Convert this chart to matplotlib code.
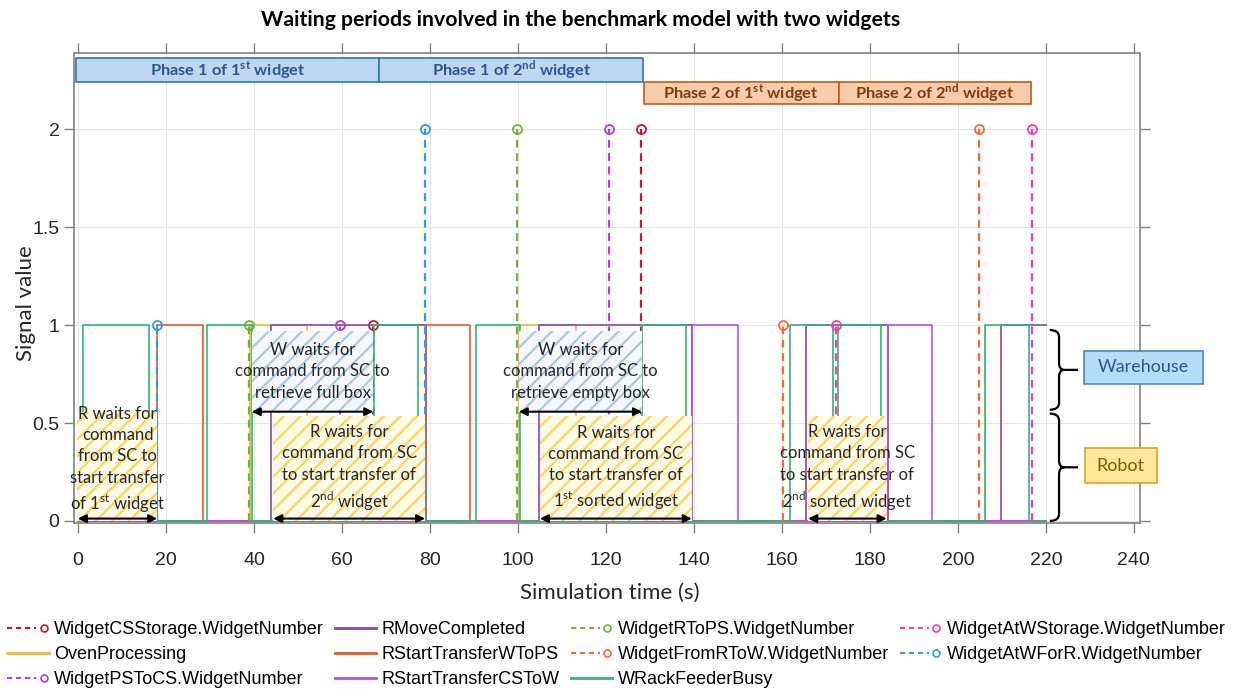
import numpy as np
import matplotlib.pyplot as plt
from matplotlib.lines import Line2D
from matplotlib.patches import Rectangle, PathPatch
from matplotlib.path import Path
from matplotlib.legend_handler import HandlerLine2D

plt.rcParams['font.family'] = ['Liberation Sans', 'DejaVu Sans']
plt.rcParams['mathtext.fontset'] = 'custom'
plt.rcParams['mathtext.rm'] = 'Lato'
plt.rcParams['mathtext.bf'] = 'Lato:bold'
plt.rcParams['hatch.linewidth'] = 1.6

# --- data (times in s) ---
t_end = 220

# step signals: times where the value changes, and the value held after it
oven_t = [0, 39.1, 52.0, 100.2, 113.2]
oven_v = [0, 1, 0, 1, 0]
rmove_t = [0, 43.8, 79.1, 104.8, 139.6, 165.5, 184.2, 209.9]
rmove_v = [0, 1, 0, 1, 0, 1, 0, 1]
wtops_t = [0, 18.0, 28.5, 79.1, 89.2]
wtops_v = [0, 1, 0, 1, 0]
cstow_t = [0, 139.6, 150.1, 184.2, 194.2]
cstow_v = [0, 1, 0, 1, 0]
rack_t = [0, 1.2, 16.2, 29.4, 39.6, 67.3, 77.3, 90.5, 100.5, 128.3, 138.2,
          161.8, 171.7, 172.8, 182.6, 206.1, 216.2]
rack_v = [0, 1, 0, 1, 0, 1, 0, 1, 0, 1, 0, 1, 0, 1, 0, 1, 0]

# widget number events (stems)
cs_storage_t = [67.1, 128.0]
cs_storage_v = [1, 2]
ps_to_cs_t = [59.6, 120.7]
ps_to_cs_v = [1, 2]
r_to_ps_t = [38.8, 99.8]
r_to_ps_v = [1, 2]
from_r_to_w_t = [160.2, 204.8]
from_r_to_w_v = [1, 2]
at_w_storage_t = [172.3, 216.8]
at_w_storage_v = [1, 2]
at_w_for_r_t = [18.0, 78.9]
at_w_for_r_v = [1, 2]

# phases
phase_start = [-0.5, 68.5, 128.6, 172.9]
phase_end = [68.5, 128.5, 172.9, 216.6]
phase_text = [r'Phase 1 of 1$^{\mathbf{st}}$ widget', r'Phase 1 of 2$^{\mathbf{nd}}$ widget',
              r'Phase 2 of 1$^{\mathbf{st}}$ widget', r'Phase 2 of 2$^{\mathbf{nd}}$ widget']

# waiting periods
wait_start = [0.0, 39.5, 44.4, 100.2, 105.0, 166.0]
wait_end = [18.0, 67.1, 78.9, 128.2, 139.5, 183.8]
wait_who = ['R', 'W', 'R', 'W', 'R', 'R']
wait_text = ['R waits for\ncommand\nfrom SC to\nstart transfer\nof 1$^{\\mathrm{st}}$ widget',
             'W waits for\ncommand from SC to\nretrieve full box',
             'R waits for\ncommand from SC\nto start transfer of\n2$^{\\mathrm{nd}}$ widget',
             'W waits for\ncommand from SC to\nretrieve empty box',
             'R waits for\ncommand from SC\nto start transfer of\n1$^{\\mathrm{st}}$ sorted widget',
             'R waits for\ncommand from SC\nto start transfer of\n2$^{\\mathrm{nd}}$ sorted widget']

step_signals = [
    ('OvenProcessing', oven_t, oven_v, '#F2B531'),
    ('RMoveCompleted', rmove_t, rmove_v, '#8E44AD'),
    ('RStartTransferWToPS', wtops_t, wtops_v, '#E35A24'),
    ('RStartTransferCSToW', cstow_t, cstow_v, '#B84EF0'),
    ('WRackFeederBusy', rack_t, rack_v, '#2EB872'),
]
stem_signals = [
    ('WidgetCSStorage.WidgetNumber', cs_storage_t, cs_storage_v, '#C5162E'),
    ('WidgetPSToCS.WidgetNumber', ps_to_cs_t, ps_to_cs_v, '#B43FD8'),
    ('WidgetRToPS.WidgetNumber', r_to_ps_t, r_to_ps_v, '#76B134'),
    ('WidgetFromRToW.WidgetNumber', from_r_to_w_t, from_r_to_w_v, '#FF6633'),
    ('WidgetAtWStorage.WidgetNumber', at_w_storage_t, at_w_storage_v, '#FF36B0'),
    ('WidgetAtWForR.WidgetNumber', at_w_for_r_t, at_w_for_r_v, '#2B9BEF'),
]
legend_order = ['WidgetCSStorage.WidgetNumber', 'OvenProcessing', 'WidgetPSToCS.WidgetNumber',
                'RMoveCompleted', 'RStartTransferWToPS', 'RStartTransferCSToW',
                'WidgetRToPS.WidgetNumber', 'WidgetFromRToW.WidgetNumber', 'WRackFeederBusy',
                'WidgetAtWStorage.WidgetNumber', 'WidgetAtWForR.WidgetNumber']


class StemHandler(HandlerLine2D):
    def create_artists(self, legend, orig_handle, xdescent, ydescent, width, height, fontsize, trans):
        y = height / 2 - ydescent
        x0 = -xdescent
        c = orig_handle.get_color()
        dash = Line2D([x0, x0 + width * 0.7], [y, y], color=c, ls=(0, (2.5, 1.8)), lw=1.5)
        dot = Line2D([x0 + width * 0.88], [y], color=c, marker='o', ms=5, mfc='none', mew=1.2, ls='none')
        dash.set_transform(trans)
        dot.set_transform(trans)
        return [dash, dot]


fig = plt.figure(figsize=(12.37, 6.91), dpi=100)
ax = fig.add_axes([74 / 1237, 1 - 522.5 / 691, 1066 / 1237, 469.5 / 691])

handles = {}
z = 2
for name in legend_order:
    for n, t, v, c in step_signals:
        if n == name:
            tt = list(t) + [t_end]
            vv = list(v) + [v[-1]]
            ax.plot(tt, vv, drawstyle='steps-post', color=c, lw=1.2, zorder=z)
            handles[name] = Line2D([], [], color=c, lw=2)
    for n, t, v, c in stem_signals:
        if n == name:
            ax.vlines(t, 0, v, colors=c, linestyles=(0, (3.5, 2.5)), lw=1.6, zorder=z)
            ax.plot(t, v, 'o', ms=6.5, mfc='none', mec=c, mew=1.3, zorder=z + 0.5)
            handles[name] = Line2D([], [], color=c, ls='--', marker='o')
    z += 1

# phase boxes
for s, e, txt in zip(phase_start, phase_end, phase_text):
    if 'Phase 1' in txt:
        fc, ec, tc, y0, y1 = '#BDD7EE', '#2E75B6', '#2F5597', 2.240, 2.362
    else:
        fc, ec, tc, y0, y1 = '#F8CBAD', '#C55A11', '#843C0C', 2.128, 2.240
    ax.add_patch(Rectangle((s, y0), e - s, y1 - y0, fc=fc, ec=ec, lw=1.2, zorder=20))
    ax.text((s + e) / 2, (y0 + y1) / 2, txt, ha='center', va='center', color=tc,
            fontsize=11.8, fontweight='bold', family='Lato', zorder=21)

# waiting-period boxes
for s, e, who, txt in zip(wait_start, wait_end, wait_who, wait_text):
    dy = 0.0
    if who == 'R':
        x0 = s - 0.3 if s == 0 else s
        y0, y1, ya = 0.0, 0.535 if s > 0 else 0.558, 0.012
        fc, hc = '#FFF9E8', '#FFD54F'
        if s == 0:
            dy = 0.03
    else:
        x0 = s
        y0, y1, ya = 0.558, 0.97, 0.558
        fc, hc = '#F4F8FC', '#A9C8E8'
    ax.add_patch(Rectangle((x0, y0), e - x0, y1 - y0, fc=fc, ec=hc, lw=0, hatch='//', zorder=30))
    ax.annotate('', xy=(e, ya), xytext=(s, ya),
                arrowprops=dict(arrowstyle='<|-|>', color='black', lw=1.5, mutation_scale=12,
                                shrinkA=0, shrinkB=0), zorder=31)
    ax.text((s + e) / 2, (y0 + y1) / 2 + dy, txt, ha='center', va='center', color='#262626',
            fontsize=12, family='Lato', linespacing=1.4, zorder=32)


def brace(x0, x1, x2, ytop, ybot, r=0.035):
    ym = (ytop + ybot) / 2
    verts = [(x0, ytop), (x1, ytop), (x1, ytop - r), (x1, ym + r), (x1, ym), (x1 + 1.2, ym),
             (x2, ym), (x1 + 1.2, ym), (x1, ym), (x1, ym - r), (x1, ybot + r), (x1, ybot), (x0, ybot)]
    codes = [Path.MOVETO, Path.CURVE3, Path.CURVE3, Path.LINETO, Path.CURVE3, Path.CURVE3,
             Path.LINETO, Path.MOVETO, Path.CURVE3, Path.CURVE3, Path.LINETO, Path.CURVE3, Path.CURVE3]
    ax.add_patch(PathPatch(Path(verts, codes), fc='none', ec='black', lw=1.6, clip_on=False, zorder=40))


brace(220.9, 223.0, 227.3, 0.975, 0.568)
brace(220.9, 223.0, 227.3, 0.548, 0.0)

# Warehouse / Robot labels
ax.add_patch(Rectangle((228.6, 0.699), 27.1, 0.17, fc='#B4DEF7', ec='#4A86C8', lw=1.2, clip_on=False, zorder=40))
ax.text(228.6 + 13.55, 0.784, 'Warehouse', ha='center', va='center', color='#2F5597',
        fontsize=13, family='Lato', zorder=41, clip_on=False)
ax.add_patch(Rectangle((228.9, 0.194), 16.3, 0.178, fc='#FFE699', ec='#D6A624', lw=1.2, clip_on=False, zorder=40))
ax.text(228.9 + 8.15, 0.283, 'Robot', ha='center', va='center', color='#7F6000',
        fontsize=13, family='Lato', zorder=41, clip_on=False)

ax.set_xlim(-0.9, 241.4)
ax.set_ylim(-0.008, 2.39)
ax.set_xticks(np.arange(0, 241, 20))
ax.set_yticks([0, 0.5, 1, 1.5, 2])
ax.set_yticklabels(['0', '0.5', '1', '1.5', '2'])
ax.grid(True, color='#E5E5E5', lw=0.8)
ax.set_axisbelow(True)
ax.tick_params(direction='out', length=7, width=1, colors='#808080', labelcolor='#262626',
               labelsize=14, top=True, right=True)
ax.tick_params(axis='x', pad=14)
for sp in ax.spines.values():
    sp.set_color('#808080')
    sp.set_linewidth(1.2)

ax.set_xlabel('Simulation time (s)', fontsize=16, family='Lato', color='#262626')
ax.set_ylabel('Signal value', fontsize=16, family='Lato', color='#262626')
ax.xaxis.set_label_coords(0.503, -0.128)
ax.yaxis.set_label_coords(-0.036, 0.468)

fig.text(581 / 1237, 1 - 20 / 691, 'Waiting periods involved in the benchmark model with two widgets',
         ha='center', va='center', fontsize=15.3, fontweight='bold', family='Lato')

hmap = {h: StemHandler() for n, h in handles.items() if h.get_marker() == 'o'}
fig.legend([handles[n] for n in legend_order], legend_order, loc='upper left',
           bbox_to_anchor=(0.0, 1 - 614 / 691), ncol=4, frameon=False, fontsize=13,
           handlelength=2.3, handletextpad=0.3, columnspacing=0.6, labelspacing=0.45,
           handler_map=hmap, borderaxespad=0)

plt.savefig('out.png', dpi=100)
